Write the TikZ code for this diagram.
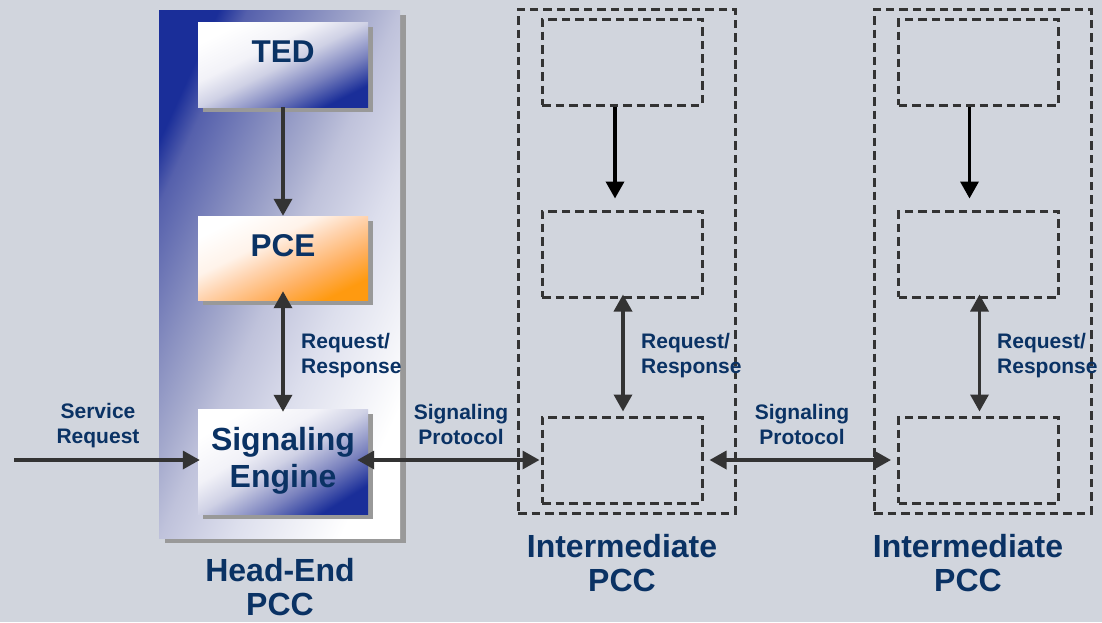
\documentclass[tikz,border=0pt]{standalone}
\usepackage{fontspec}
\setmainfont{Liberation Sans}
\usetikzlibrary{arrows.meta,shadows}
\definecolor{bg}{HTML}{D1D5DD}
\definecolor{navy}{HTML}{0A3264}
\definecolor{deepblue}{HTML}{1A2E99}
\definecolor{arr}{HTML}{333333}
\definecolor{shadowgray}{HTML}{999999}
\definecolor{orng}{HTML}{FF9A10}
\definecolor{heA}{HTML}{5560AC}
\definecolor{heB}{HTML}{888FC0}
\definecolor{heC}{HTML}{A5AACD}
\definecolor{heD}{HTML}{BFC2DB}
\definecolor{heE}{HTML}{DDDFED}
\definecolor{bxA}{HTML}{F2F2F8}
\definecolor{bxB}{HTML}{CFD1E5}
\definecolor{bxC}{HTML}{7A82BE}
\definecolor{orA}{HTML}{FFF3EA}
\definecolor{orB}{HTML}{FFD3AE}
\definecolor{orC}{HTML}{FFB060}
\pgfdeclareverticalshading{heshade}{100bp}{color(0bp)=(white); color(25bp)=(white); color(40bp)=(heE); color(50bp)=(heD); color(55bp)=(heC); color(61bp)=(heB); color(71bp)=(heA); color(75bp)=(deepblue); color(100bp)=(deepblue)}
\pgfdeclareverticalshading{blueshade}{100bp}{color(0bp)=(deepblue); color(25bp)=(deepblue); color(37bp)=(bxC); color(50bp)=(bxB); color(60bp)=(bxA); color(75bp)=(white); color(100bp)=(white)}
\pgfdeclareverticalshading{orshade}{100bp}{color(0bp)=(orng); color(25bp)=(orng); color(37bp)=(orC); color(50bp)=(orB); color(60bp)=(orA); color(75bp)=(white); color(100bp)=(white)}
\begin{document}
\begin{tikzpicture}[x=1pt,y=-1pt,
  lbl/.style={text=navy,font=\fontsize{21}{25}\selectfont\bfseries,align=center,inner sep=0pt},
  biglbl/.style={text=navy,font=\fontsize{32}{34}\selectfont\bfseries,align=center,inner sep=0pt},
  boxlbl/.style={text=navy,font=\fontsize{31.5}{37}\selectfont\bfseries,align=center,inner sep=0pt},
  shad/.style={drop shadow={shadow xshift=5pt,shadow yshift=-5pt,fill=shadowgray,opacity=1}},
  gbox/.style={minimum width=170pt,inner sep=0pt,draw=none,shad},
  dbox/.style={draw=arr,dash pattern=on 8.5pt off 5pt,line width=3pt,inner sep=0pt},
  ibox/.style={dbox,minimum width=160pt,minimum height=86pt},
  obox/.style={dbox,minimum width=217pt,minimum height=504pt},
  conn/.style={draw=arr,line width=3.5pt,-{Triangle[width=18pt,length=17pt]}},
  conntwo/.style={draw=arr,line width=3.5pt,{Triangle[width=18pt,length=17pt]}-{Triangle[width=18pt,length=17pt]}},
  connblk/.style={draw=black,line width=3.5pt,-{Triangle[width=18pt,length=17pt]}},
]
\fill[bg] (0,0) rectangle (1102,622);
\useasboundingbox (0,0) rectangle (1102,622);

% Head-end PCC
\node[minimum width=241pt,minimum height=528pt,inner sep=0pt,
      shade,shading=heshade,shading angle=65.5,
      drop shadow={shadow xshift=6pt,shadow yshift=-5pt,fill=shadowgray,opacity=1}] (he) at (279.5,274) {};
\node[gbox,minimum height=85pt,shade,shading=blueshade,shading angle=26.6,
      label={[boxlbl,yshift=12.5pt]center:TED}] (ted) at (283,64.5) {};
\node[gbox,minimum height=84pt,shade,shading=orshade,shading angle=26.3,
      label={[boxlbl,yshift=12pt]center:PCE}] (pce) at (283,258) {};
\node[gbox,minimum height=105pt,shade,shading=blueshade,shading angle=31.7,
      label={[boxlbl,font=\fontsize{32}{37}\selectfont\bfseries,yshift=1pt]center:Signaling\\Engine}] (se) at (283,461.5) {};

% Intermediate PCC 1
\node[obox] (i1) at (626.5,261) {};
\node[ibox] (i1a) at (622,62) {};
\node[ibox] (i1b) at (622,254) {};
\node[ibox] (i1c) at (622,460) {};

% Intermediate PCC 2
\node[obox] (i2) at (982.5,261) {};
\node[ibox] (i2a) at (978.5,62) {};
\node[ibox] (i2b) at (978.5,254) {};
\node[ibox] (i2c) at (978.5,460) {};

% connectors
\draw[conn] (ted.south) -- (pce.north);
\draw[conntwo,shorten <=-9pt,shorten >=-3pt] (pce.south) -- (se.north);
\coordinate (src) at (14,460);
\draw[conn,shorten >=-2pt] (src) -- (src -| se.west);
\draw[conntwo,shorten <=-11pt,shorten >=1pt] (i1c.west -| se.east) -- (i1c.west);
\draw[conntwo,shorten <=6pt,shorten >=6pt] (i1c.east) -- (i2c.west);

\draw[connblk,shorten >=11pt] ([xshift=-7pt]i1a.south) -- ([xshift=-7pt]i1b.north);
\draw[conntwo,shorten <=-4pt,shorten >=4pt] ([xshift=1pt]i1b.south) -- ([xshift=1pt]i1c.north);
\draw[connblk,shorten >=11pt] ([xshift=-9pt]i2a.south) -- ([xshift=-9pt]i2b.north);
\draw[conntwo,shorten <=-4pt,shorten >=4pt] ([xshift=1pt]i2b.south) -- ([xshift=1pt]i2c.north);

% labels
\node[lbl] (lsr) at (98,426) {Service\\Request};
\node[lbl] (lsp1) at (461,424) {Signaling\\Protocol};
\node[lbl] (lsp2) at (802,424) {Signaling\\Protocol};
\node[lbl,anchor=west,align=left] (lrr0) at (301,356) {Request/\\Response};
\node[lbl,anchor=west,align=left] (lrr1) at (641,356) {Request/\\Response};
\node[lbl,anchor=west,align=left] (lrr2) at (997,356) {Request/\\Response};
\node[biglbl] (lhe) at (280,587) {Head-End\\PCC};
\node[biglbl] (li1) at (622,563) {Intermediate\\PCC};
\node[biglbl] (li2) at (968,563) {Intermediate\\PCC};
\end{tikzpicture}
\end{document}
